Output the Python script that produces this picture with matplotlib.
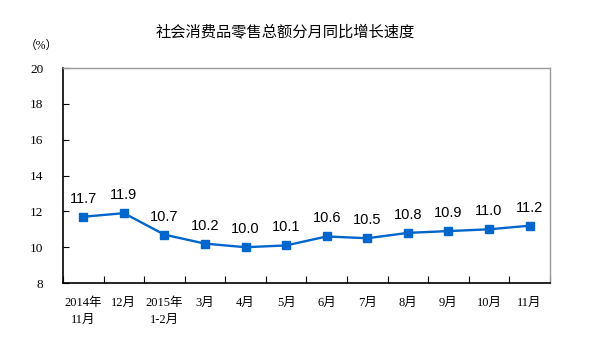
import matplotlib
matplotlib.use("Agg")
import matplotlib.pyplot as plt
import numpy as np

months = ["2014年\n11月", "12月", "2015年\n1-2月", "3月", "4月", "5月",
          "6月", "7月", "8月", "9月", "10月", "11月"]
growth = [11.7, 11.9, 10.7, 10.2, 10.0, 10.1, 10.6, 10.5, 10.8, 10.9, 11.0, 11.2]
yticks = [8, 10, 12, 14, 16, 18, 20]

cjk = ["Noto Sans CJK SC", "DejaVu Sans"]
serif = ["Liberation Serif", "Noto Sans CJK SC"]
blue = "#0066cc"

fig = plt.figure(figsize=(6.14, 3.49), dpi=100)
ax = fig.add_axes([0.1026, 0.189, 0.793, 0.616])

x = np.arange(len(growth))
ax.plot(x, growth, color=blue, lw=1.7, marker="s", ms=5.5, mec=blue, mfc=blue)
for xi, v in zip(x, growth):
    ax.annotate(f"{v:.1f}", (xi, v), xytext=(0, 8), textcoords="offset points",
                ha="center", va="bottom", fontsize=10.5, family="Liberation Sans")

ax.set_xlim(-0.5, len(growth) - 0.5)
ax.set_ylim(8, 20)
ax.set_yticks(yticks)
ax.set_yticklabels([str(t) for t in yticks], family=serif, fontsize=9.5)
ax.tick_params(axis="y", direction="in", length=4, pad=14, color="black")

ax.set_xticks(np.arange(-0.5, len(growth)), minor=False)
ax.set_xticklabels([])
ax.set_xticks(x, minor=True)
ax.set_xticklabels(months, minor=True, family=serif, fontsize=9, linespacing=1.6)
ax.tick_params(axis="x", which="major", direction="in", length=5, color="black")
ax.tick_params(axis="x", which="minor", length=0, pad=10)

for side in ("left", "bottom"):
    ax.spines[side].set_color("black")
    ax.spines[side].set_linewidth(1.2)
for side in ("top", "right"):
    ax.spines[side].set_color("#999999")
    ax.spines[side].set_linewidth(1)

fig.text(0.464, 0.908, "社会消费品零售总额分月同比增长速度", family=cjk,
         fontsize=11, ha="center", va="center")
fig.text(0.068, 0.87, "（%）", family=serif, fontsize=8.5, ha="center", va="center")

fig.savefig("out.png", dpi=100)
